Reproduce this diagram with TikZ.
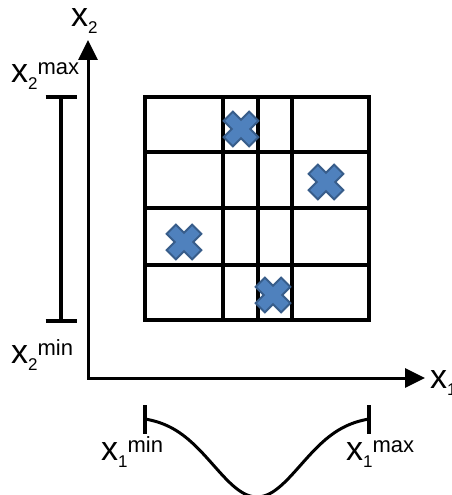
\documentclass[tikz,border=0pt]{standalone}
\usepackage{fontspec}
\setmainfont{Liberation Sans}
\usetikzlibrary{arrows.meta}
\definecolor{crossfill}{HTML}{4F81BD}
\definecolor{crossline}{HTML}{385D8A}
\newcommand\mysub[1]{\raisebox{-7pt}{\fontsize{17}{17}\selectfont #1}}
\newcommand\mysup[1]{\raisebox{7.5pt}{\fontsize{22}{22}\selectfont #1}}
\tikzset{
  lbl/.style={inner sep=0pt, anchor=base west, font=\fontsize{34}{34}\selectfont},
  gridline/.style={line width=3.2pt, line cap=rect},
  axisline/.style={line width=3pt, line join=miter},
  rangebar/.style={line width=3.5pt},
  xcross/.pic={
    \draw[fill=crossfill, draw=crossline, line width=2pt, line join=miter, rotate=45]
      (18,-6.5) -- (18,6.5) -- (6.5,6.5) -- (6.5,18) -- (-6.5,18) -- (-6.5,6.5)
      -- (-18,6.5) -- (-18,-6.5) -- (-6.5,-6.5) -- (-6.5,-18) -- (6.5,-18)
      -- (6.5,-6.5) -- cycle;
  }
}
\begin{document}
\begin{tikzpicture}[x=1pt,y=-1pt]
\useasboundingbox (0,0) rectangle (451,495);
% grid
\foreach \gx in {145,223,258,292,369} \draw[gridline] (\gx,97) -- (\gx,320);
\foreach \gy in {97,152,208,265,320} \draw[gridline] (145,\gy) -- (369,\gy);
% crosses
\pic at (241,129) {xcross};
\pic at (326,182) {xcross};
\pic at (184,242) {xcross};
\pic at (273,295) {xcross};
% axes
\coordinate (O) at (88,378);
\coordinate (ytip) at (88,40);
\coordinate (xtip) at (425,378);
\draw[axisline, {Triangle[length=20pt,width=19pt]}-{Triangle[length=20pt,width=19pt]}] (ytip) -- (O) -- (xtip);
% x2 range bar
\coordinate (r2t) at (61,97);
\coordinate (r2b) at (61,321);
\draw[rangebar] (r2t) -- (r2b);
\draw[rangebar] ([xshift=-15.5pt]r2t) -- ([xshift=15.5pt]r2t);
\draw[rangebar] ([xshift=-15.5pt]r2b) -- ([xshift=15.5pt]r2b);
% x1 range bars and curve
\coordinate (r1lt) at (145,405);
\coordinate (r1lb) at (145,434);
\coordinate (r1rt) at (369,405);
\coordinate (r1rb) at (369,434);
\draw[rangebar] (r1lt) -- (r1lb);
\draw[rangebar] (r1rt) -- (r1rb);
\draw[line width=3pt] plot[domain=146:368, samples=80, smooth] (\x, {416+81*exp(-((\x-257)*(\x-257))/3800)});
% labels
\node[lbl] (lx2) at (71,27) {x\mysub{2}};
\node[lbl] (lx2max) at (11,82) {x\mysub{2}\mysup{max}};
\node[lbl] (lx2min) at (11,363) {x\mysub{2}\mysup{min}};
\node[lbl] (lx1) at (430,388) {x\mysub{1}};
\node[lbl] (lx1min) at (101,460) {x\mysub{1}\mysup{min}};
\node[lbl] (lx1max) at (346,460) {x\mysub{1}\mysup{max}};
\end{tikzpicture}
\end{document}
